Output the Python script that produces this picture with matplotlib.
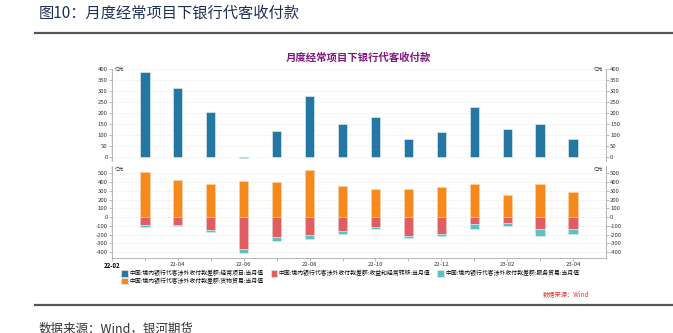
import numpy as np
import matplotlib
matplotlib.use("Agg")
import matplotlib.pyplot as plt
from matplotlib.lines import Line2D
from matplotlib.patches import Patch
from matplotlib.ticker import MultipleLocator

plt.rcParams["font.family"] = ["Noto Sans CJK SC", "DejaVu Sans"]
plt.rcParams["axes.unicode_minus"] = False

# ── data (亿美元, 当月值) ──
months = ["22-03", "22-04", "22-05", "22-06", "22-07", "22-08", "22-09",
          "22-10", "22-11", "22-12", "23-01", "23-02", "23-03", "23-04"]
current_acct = [385, 315, 205, -7, 115, 275, 147, 180, 79, 111, 226, 127, 151, 82]
goods = [511, 424, 383, 417, 405, 534, 356, 322, 326, 345, 375, 250, 383, 284]
income = [-87, -87, -144, -364, -227, -205, -155, -117, -212, -189, -76, -64, -133, -133]
services = [-30, -19, -30, -49, -50, -45, -42, -19, -30, -31, -60, -42, -87, -56]

tick_labels = ["22-02", "22-04", "22-06", "22-08", "22-10", "22-12", "23-02", "23-04"]

legend_names = [
    "中国:境内银行代客涉外收付款差额:经常项目:当月值",
    "中国:境内银行代客涉外收付款差额:收益和经常转移:当月值",
    "中国:境内银行代客涉外收付款差额:服务贸易:当月值",
    "中国:境内银行代客涉外收付款差额:货物贸易:当月值",
]

C_BLUE = "#2577a3"
C_ORANGE = "#f5891c"
C_RED = "#e05d61"
C_CYAN = "#5fc0c0"
EDGE = "#d9e8ef"

x = np.arange(1, len(months) + 1)
W = 0.28
FS = 4.3

fig = plt.figure(figsize=(6.73, 3.33), dpi=100)

# header
fig.text(0.057, 0.962, "图10：月度经常项目下银行代客收付款", fontsize=11,
         color="#1f2f55", va="center", ha="left")
fig.add_artist(Line2D([0.052, 1.0], [0.9, 0.9], color="#555555", lw=1.6))
fig.text(0.533, 0.828, "月度经常项目下银行代客收付款", fontsize=7.5,
         color="#80187f", fontweight="bold", ha="center", va="center")


def style_axis(ax, ylim, yticks, minor):
    ax.set_xlim(0, 15)
    ax.set_ylim(*ylim)
    ax.set_yticks(yticks)
    ax.yaxis.set_minor_locator(MultipleLocator(minor))
    ax.spines["top"].set_visible(False)
    for s in ["left", "right", "bottom"]:
        ax.spines[s].set_color("#aaaaaa")
        ax.spines[s].set_linewidth(0.6)
    ax.tick_params(axis="y", labelsize=FS, length=2, width=0.4, color="#888888",
                   labelcolor="#333333", pad=1, right=True, labelright=True)
    ax.tick_params(axis="y", which="minor", length=1, width=0.3, color="#aaaaaa",
                   right=True)
    ax.grid(axis="y", color="#f2f2f2", lw=0.5)
    ax.set_axisbelow(True)


# top panel: current account
ax1 = fig.add_axes([0.1664, 0.5165, 0.734, 0.2765])
ax1.bar(x, current_acct, width=W, color=C_BLUE, edgecolor=EDGE, linewidth=0.5)
style_axis(ax1, (-20, 400), np.arange(0, 401, 50), 10)
ax1.spines["bottom"].set_visible(False)
ax1.set_xticks([])
ax1.text(0.006, 400, "亿元", transform=ax1.get_yaxis_transform(), fontsize=3.3,
         ha="left", va="center", color="#333333")
ax1.text(0.994, 400, "亿元", transform=ax1.get_yaxis_transform(), fontsize=3.3,
         ha="right", va="center", color="#333333")

# bottom panel: components
ax2 = fig.add_axes([0.1664, 0.2243, 0.734, 0.2763])
ax2.bar(x, goods, width=W, color=C_ORANGE, edgecolor="#fbd3a8", linewidth=0.5)
ax2.bar(x, income, width=W, color=C_RED, edgecolor="#f2c0c0", linewidth=0.5)
ax2.bar(x, services, width=W, bottom=income, color=C_CYAN, edgecolor="#c8ecec", linewidth=0.5)
style_axis(ax2, (-470, 580), np.arange(-400, 501, 100), 25)
ax2.set_xticks(np.arange(0, 15, 2))
ax2.set_xticklabels(tick_labels)
ax2.set_xticks(np.arange(1, 15, 2), minor=True)
ax2.tick_params(axis="x", which="both", labelsize=FS, length=2, width=0.4,
                color="#888888", labelcolor="#333333", pad=1)
ax2.get_xticklabels()[0].set_fontweight("bold")
ax2.get_xticklabels()[0].set_color("#000000")
ax2.text(0.006, 575, "亿元", transform=ax2.get_yaxis_transform(), fontsize=3.3,
         ha="left", va="top", color="#333333")
ax2.text(0.994, 575, "亿元", transform=ax2.get_yaxis_transform(), fontsize=3.3,
         ha="right", va="top", color="#333333")

# legend
handles = [Patch(facecolor=C_BLUE, edgecolor=EDGE, lw=0.5),
           Patch(facecolor=C_ORANGE, edgecolor=EDGE, lw=0.5),
           Patch(facecolor=C_RED, edgecolor=EDGE, lw=0.5),
           Patch(facecolor=C_CYAN, edgecolor=EDGE, lw=0.5)]
labels = [legend_names[0], legend_names[3], legend_names[1], legend_names[2]]
leg = fig.legend(handles, labels, ncol=3, loc="upper left",
                 bbox_to_anchor=(0.175, 0.2), frameon=False, fontsize=4.2,
                 handlelength=1.1, handleheight=1.3, handletextpad=0.3,
                 columnspacing=1.2, labelspacing=0.15, borderpad=0.1)

fig.text(0.875, 0.118, "数据来源：Wind", fontsize=4.5, color="#e8312f",
         style="italic", ha="right", va="center")
fig.add_artist(Line2D([0.052, 1.0], [0.085, 0.085], color="#555555", lw=1.6))
fig.text(0.057, 0.012, "数据来源：Wind，银河期货", fontsize=9, color="#333333",
         ha="left", va="center")

fig.savefig("out.png", dpi=100)
